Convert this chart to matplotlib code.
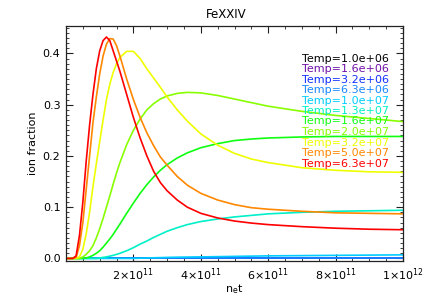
import numpy as np
import matplotlib
matplotlib.use("Agg")
import matplotlib.pyplot as plt
from matplotlib.ticker import MultipleLocator, FixedLocator, FixedFormatter

# ---- data ----
x_e11 = [0, 0.2, 0.3, 0.4, 0.5, 0.6, 0.7, 0.8, 0.9, 1.0, 1.1, 1.2, 1.3, 1.4, 1.5, 1.6,
         1.8, 2.0, 2.2, 2.4, 2.6, 2.8, 3.0, 3.3, 3.6, 4.0, 4.5, 5.0, 5.5, 6.0, 7.0, 8.0, 9.0, 10.0]

temps = ["1.0e+06", "1.6e+06", "3.2e+06", "6.3e+06", "1.0e+07", "1.3e+07",
         "1.6e+07", "2.0e+07", "3.2e+07", "5.0e+07", "6.3e+07"]

zeros = [0.0] * len(x_e11)
frac_1_0e6 = zeros
frac_1_6e6 = zeros
frac_3_2e6 = zeros
frac_6_3e6 = zeros
frac_1_0e7 = [0, 0, 0, 0, 0, 0, 0, 0, 0, 0, 0, 0, 0, 0, 0, 0,
              0, 0, 0.0005, 0.001, 0.0013, 0.0016, 0.002, 0.0024, 0.0027, 0.003,
              0.0035, 0.004, 0.0045, 0.005, 0.0055, 0.006, 0.0065, 0.007]
frac_1_3e7 = [0, 0, 0, 0, 0, 0, 0, 0, 0, 0.001, 0.002, 0.003, 0.0045, 0.006, 0.008, 0.010,
              0.015, 0.021, 0.028, 0.034, 0.041, 0.047, 0.053, 0.060, 0.066, 0.072,
              0.077, 0.081, 0.084, 0.087, 0.090, 0.092, 0.093, 0.094]
frac_1_6e7 = [0, 0, 0, 0, 0, 0.001, 0.003, 0.006, 0.010, 0.015, 0.022, 0.030, 0.038, 0.047, 0.057, 0.067,
              0.088, 0.108, 0.127, 0.144, 0.159, 0.172, 0.183, 0.196, 0.206, 0.216,
              0.224, 0.230, 0.233, 0.235, 0.237, 0.238, 0.238, 0.238]
frac_2_0e7 = [0, 0, 0, 0, 0.003, 0.008, 0.015, 0.025, 0.040, 0.058, 0.078, 0.100, 0.122, 0.145, 0.167, 0.187,
              0.222, 0.250, 0.272, 0.290, 0.302, 0.311, 0.317, 0.322, 0.324, 0.323,
              0.318, 0.311, 0.304, 0.297, 0.287, 0.279, 0.273, 0.267]
frac_3_2e7 = [0, 0, 0, 0.003, 0.018, 0.048, 0.090, 0.140, 0.185, 0.228, 0.270, 0.310, 0.340, 0.363, 0.380, 0.392,
              0.404, 0.404, 0.390, 0.370, 0.352, 0.334, 0.315, 0.290, 0.268, 0.243,
              0.221, 0.205, 0.194, 0.187, 0.177, 0.172, 0.169, 0.168]
frac_5_0e7 = [0, 0, 0.002, 0.025, 0.070, 0.135, 0.200, 0.265, 0.315, 0.360, 0.395, 0.418, 0.429, 0.428, 0.415, 0.395,
              0.350, 0.310, 0.275, 0.245, 0.220, 0.198, 0.182, 0.160, 0.143, 0.127,
              0.114, 0.105, 0.099, 0.096, 0.092, 0.089, 0.088, 0.087]
frac_6_3e7 = [0, 0, 0.005, 0.045, 0.110, 0.190, 0.260, 0.320, 0.370, 0.405, 0.425, 0.432, 0.425, 0.405, 0.385, 0.365,
              0.320, 0.275, 0.235, 0.200, 0.170, 0.148, 0.132, 0.114, 0.100, 0.088,
              0.079, 0.073, 0.069, 0.066, 0.062, 0.059, 0.057, 0.056]

series = [frac_1_0e6, frac_1_6e6, frac_3_2e6, frac_6_3e6, frac_1_0e7, frac_1_3e7,
          frac_1_6e7, frac_2_0e7, frac_3_2e7, frac_5_0e7, frac_6_3e7]
colors = ["#000000", "#7010a8", "#1030ff", "#1888ff", "#00ccff", "#00f0c8",
          "#10ff10", "#88ff00", "#eeff00", "#ff8800", "#ff0000"]

xticks_e11 = [2, 4, 6, 8, 10]
xtick_labels = [r"$2{\times}10^{11}$", r"$4{\times}10^{11}$", r"$6{\times}10^{11}$",
                r"$8{\times}10^{11}$", r"$1{\times}10^{12}$"]

# ---- figure ----
W, H = 436, 308
fig = plt.figure(figsize=(W / 100, H / 100), dpi=100)
ax = fig.add_axes([66 / W, 1 - 261 / H, 337 / W, 235 / H])

x = np.array(x_e11) * 1e11
for vals, c in zip(series, colors):
    ax.plot(x, vals, color=c, lw=1.2, solid_joinstyle="round")

ax.set_xlim(0, 1e12)
ax.set_ylim(-0.005, 0.4535)

ax.xaxis.set_major_locator(FixedLocator(np.array(xticks_e11) * 1e11))
ax.xaxis.set_major_formatter(FixedFormatter(xtick_labels))
ax.xaxis.set_minor_locator(MultipleLocator(0.5e11))
ax.yaxis.set_major_locator(MultipleLocator(0.1))
ax.yaxis.set_minor_locator(MultipleLocator(0.01))
ax.yaxis.set_major_formatter(plt.FuncFormatter(lambda v, p: f"{v:.1f}"))

ax.tick_params(which="both", direction="in", top=True, right=True, labelsize=8, color="#222222")
ax.tick_params(which="major", length=5, width=0.8, pad=4)
ax.tick_params(which="minor", length=2.5, width=0.6)
for s in ax.spines.values():
    s.set_linewidth(0.9)
    s.set_color("#222222")

fig.text(33 / W, 1 - 143 / H, "ion fraction", rotation=90, ha="center", va="center", fontsize=8)
fig.text(234 / W, 1 - 289 / H, r"n$_\mathregular{e}$t", ha="center", va="center", fontsize=8)
fig.text(226 / W, 1 - 15 / H, "FeXXIV", ha="center", va="center", fontsize=8.5)

# legend text
y0 = 58.5
dy = 10.5
for i, (t, c) in enumerate(zip(temps, colors)):
    fig.text(302 / W, 1 - (y0 + i * dy) / H, f"Temp={t}", color=c, fontsize=8,
             ha="left", va="center")

fig.savefig("out.png", dpi=100)
